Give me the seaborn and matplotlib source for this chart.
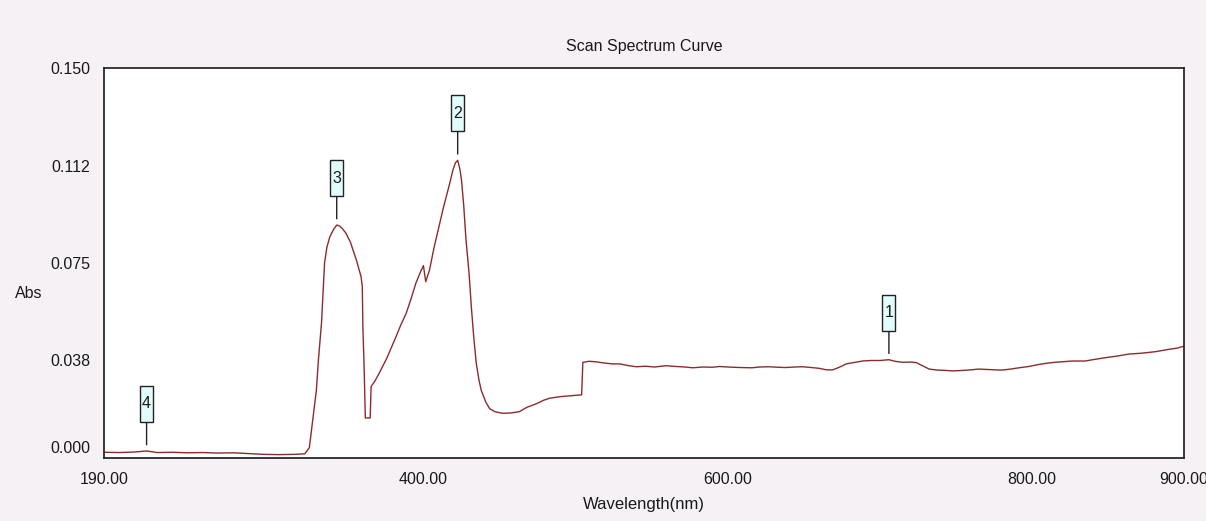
import matplotlib
matplotlib.use("Agg")
import matplotlib.pyplot as plt
from matplotlib.path import Path
from matplotlib.transforms import ScaledTranslation
import seaborn as sns

# Scan spectrum: wavelength (nm) and absorbance
wavelength = [
    190, 200, 210, 218, 225, 235, 245, 255, 265, 275, 285, 295, 305, 315, 322,
    325, 327, 329.6, 331, 333, 335, 336.5, 338.4, 341, 343, 345, 347, 349, 352,
    356, 359, 359.8, 360.2, 361, 361.8, 365, 365.6, 368, 371, 376, 382, 385,
    388.7, 392, 395, 398, 400, 401.5, 404, 407, 410.7, 413, 415, 417, 419.4,
    421, 422.5, 424, 425, 426.5, 428, 430, 431.5, 433, 434.7, 436.5, 438, 441,
    443.5, 447, 452, 457, 463, 468, 474, 479, 483, 490, 498, 504, 504.8, 509,
    513.5, 518, 524, 529, 535, 540, 546, 552, 559.5, 566, 572, 577, 584, 590,
    594.6, 600, 608, 616, 621, 627, 633, 638, 644, 649, 655, 660, 665, 669,
    673, 678, 683, 688.6, 694, 700, 706, 710, 715, 720, 724, 728, 732.5, 738,
    743, 747.6, 752, 758, 765, 772, 780, 786, 791.6, 798, 803, 809, 815, 826.5,
    835, 842, 848.5, 856, 864, 872, 881.4, 890, 895, 900,
]
absorbance = [
    0.0022, 0.0021, 0.0023, 0.0027, 0.0021, 0.0022, 0.0020, 0.0021, 0.0019,
    0.0020, 0.0017, 0.0014, 0.0013, 0.0014, 0.0016,
    0.0040, 0.0135, 0.0260, 0.0380, 0.0520, 0.0750, 0.0810, 0.0850, 0.0880,
    0.0896, 0.0892, 0.0880, 0.0865, 0.0830,
    0.0760, 0.0697, 0.0660, 0.0500, 0.0350, 0.0154, 0.0154, 0.0275, 0.0295,
    0.0327, 0.0385, 0.0467, 0.0510,
    0.0557, 0.0615, 0.0672, 0.0715, 0.0740, 0.0678, 0.0723, 0.0810, 0.0903,
    0.0960, 0.1005, 0.1050, 0.1108,
    0.1135, 0.1145, 0.1110, 0.1070, 0.0970, 0.0838, 0.0710, 0.0580, 0.0470,
    0.0365, 0.0300, 0.0260, 0.0215,
    0.0190, 0.0178, 0.0172, 0.0173, 0.0178, 0.0195, 0.0208, 0.0222, 0.0230,
    0.0236, 0.0240, 0.0243, 0.0368, 0.0372,
    0.0370, 0.0366, 0.0362, 0.0362, 0.0355, 0.0351, 0.0353, 0.0350, 0.0355,
    0.0352, 0.0350, 0.0347, 0.0350, 0.0349,
    0.0352, 0.0350, 0.0348, 0.0347, 0.0350, 0.0351, 0.0349, 0.0348, 0.0350,
    0.0351, 0.0348, 0.0345, 0.0339, 0.0339,
    0.0348, 0.0362, 0.0367, 0.0373, 0.0375, 0.0375, 0.0378, 0.0372, 0.0368,
    0.0369, 0.0367, 0.0355, 0.0342, 0.0338,
    0.0337, 0.0335, 0.0336, 0.0338, 0.0342, 0.0340, 0.0338, 0.0342, 0.0347,
    0.0352, 0.0358, 0.0364, 0.0368, 0.0373,
    0.0373, 0.0380, 0.0386, 0.0392, 0.0400, 0.0403, 0.0409, 0.0418, 0.0422,
    0.0430,
]

# Picked peaks
peak_labels = ["1", "2", "3", "4"]
peak_nm = [706, 422.5, 343, 218]
peak_abs = [0.0378, 0.1145, 0.0896, 0.0027]

x_ticks = [190, 400, 600, 800, 900]
x_tick_labels = ["190.00", "400.00", "600.00", "800.00", "900.00"]
y_ticks = [0.0, 0.0375, 0.075, 0.1125, 0.15]
y_tick_labels = ["0.000", "0.038", "0.075", "0.112", "0.150"]

sns.set_style("white")
plt.rcParams["font.family"] = ["Liberation Sans", "DejaVu Sans"]

BG = "#f5f1f5"
LINE = "#8b2c2c"
FRAME = "#2a2a2a"
TEXT = "#1a1a1a"

fig = plt.figure(figsize=(12.06, 5.21), dpi=100, facecolor=BG)
ax = fig.add_axes([104 / 1206, 1 - 458 / 521, 1080 / 1206, 390 / 521])
ax.set_facecolor("white")

sns.lineplot(x=wavelength, y=absorbance, ax=ax, color=LINE, linewidth=1.0,
             estimator=None, sort=False)

ax.set_xlim(190, 900)
ax.set_ylim(0, 0.15)
ax.set_xticks(x_ticks)
ax.set_xticklabels(x_tick_labels)
ax.set_yticks(y_ticks)
ax.set_yticklabels(y_tick_labels)
ax.tick_params(axis="both", length=0, labelsize=11.5, colors=TEXT)
ax.tick_params(axis="x", pad=10)
ax.tick_params(axis="y", pad=10)

# the bottom y label sits a little above the baseline
zero_lbl = ax.get_yticklabels()[0]
zero_lbl.set_transform(zero_lbl.get_transform()
                       + ScaledTranslation(0, 11 / 100, fig.dpi_scale_trans))

for s in ax.spines.values():
    s.set_visible(True)
    s.set_color(FRAME)
    s.set_linewidth(1.3)

ax.set_title("Scan Spectrum Curve", fontsize=11.5, pad=12, color=TEXT)
ax.set_xlabel("Wavelength(nm)", fontsize=12, color=TEXT, va="center")
ax.xaxis.set_label_coords(0.5, -47 / 390)
ax.set_ylabel("Abs", fontsize=11.5, rotation=0, color=TEXT,
              ha="center", va="center")
ax.yaxis.set_label_coords(-75 / 1080, 165 / 390)


def tag_box(x0, y0, width, height, mutation_size):
    # fixed tall, narrow marker tag centred on the label text
    cx = x0 + width / 2
    cy = y0 + height / 2
    hw, hh = 6.5, 18
    verts = [(cx - hw, cy - hh), (cx + hw, cy - hh), (cx + hw, cy + hh),
             (cx - hw, cy + hh), (cx - hw, cy - hh)]
    return Path(verts, closed=True)


for lbl, nm, val in zip(peak_labels, peak_nm, peak_abs):
    ax.annotate(
        lbl, xy=(nm, val), xytext=(0, 47), textcoords="offset pixels",
        ha="center", va="center", fontsize=11.5, color=TEXT,
        bbox=dict(boxstyle=tag_box, fc="#e2fbfb", ec="#222222", lw=1.0),
        arrowprops=dict(arrowstyle="-", color="#222222", lw=1.0,
                        shrinkA=0, shrinkB=4.5),
    )

fig.savefig("out.png", dpi=100, facecolor=BG)
